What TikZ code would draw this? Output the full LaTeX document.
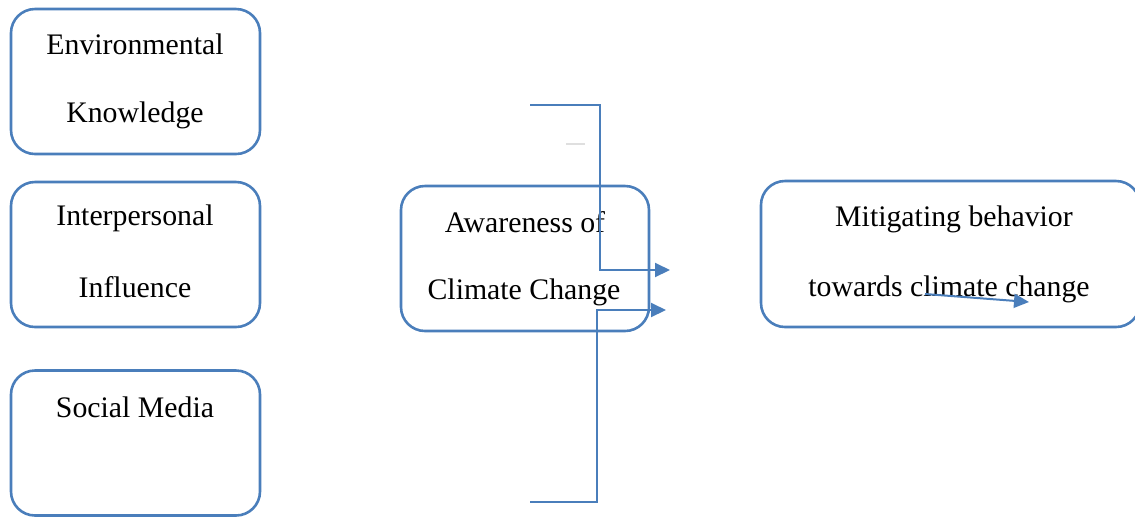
\documentclass[tikz,border=0pt]{standalone}
\usepackage{fontspec}
\setmainfont{Liberation Serif}
\usepackage{tikz}
\usepackage{xcolor}
\usetikzlibrary{arrows.meta}
\definecolor{boxblue}{RGB}{74,126,187}

\begin{document}
\begin{tikzpicture}[x=0.5pt,y=-0.5pt]
	\useasboundingbox (0,0) rectangle (1135,516);
	\clip (0,0) rectangle (1135,516);
	\tikzstyle{box}=[rectangle,draw=boxblue,line width=1.3pt,rounded corners=12pt,inner sep=0pt,minimum width=124.5pt,minimum height=72.5pt]
	\tikzstyle{lbl}=[inner sep=0pt,font=\fontsize{14.9}{17}\selectfont]
	\tikzstyle{conn}=[draw=boxblue,line width=1pt,-{Triangle[length=7.5pt,width=7pt]}]
	% boxes
	\node[box] (know) at (135.5,81.5) {};
	\node[box] (infl) at (135.5,254.5) {};
	\node[box] (media) at (135.5,443) {};
	\node[box,minimum width=124pt] (aware) at (525,258.5) {};
	\node[box,minimum width=189.5pt,minimum height=73pt] (mitig) at (950.5,254) {};
	% texts
	\node[lbl] (know1) at (135,44) {Environmental};
	\node[lbl] (know2) at (135,115) {Knowledge};
	\node[lbl] (infl1) at (135,218) {Interpersonal};
	\node[lbl] (infl2) at (135,287) {Influence};
	\node[lbl] (media1) at (135,407) {Social Media};
	\node[lbl] (aware1) at (525,222) {Awareness of};
	\node[lbl] (aware2) at (524,292) {Climate Change};
	\node[lbl] (mitig1) at (954,219) {Mitigating behavior};
	\node[lbl] (mitig2) at (949,289) {towards climate change};
	% connectors
	\coordinate (s1) at (530,105);
	\coordinate (e1) at (670,270);
	\coordinate (s2) at (530,502);
	\coordinate (e2) at (666,310);
	\coordinate (s3) at (925,294);
	\coordinate (e3) at (1029,302);
	\draw[conn] (s1) -- (600,105) -- (600,270) -- (e1);
	\draw[conn] (s2) -- (597,502) -- (597,310) -- (e2);
	\draw[conn] (s3) -- (e3);
	\draw[gray!25,line width=0.6pt] (566,144) -- (585,144);
\end{tikzpicture}
\end{document}
